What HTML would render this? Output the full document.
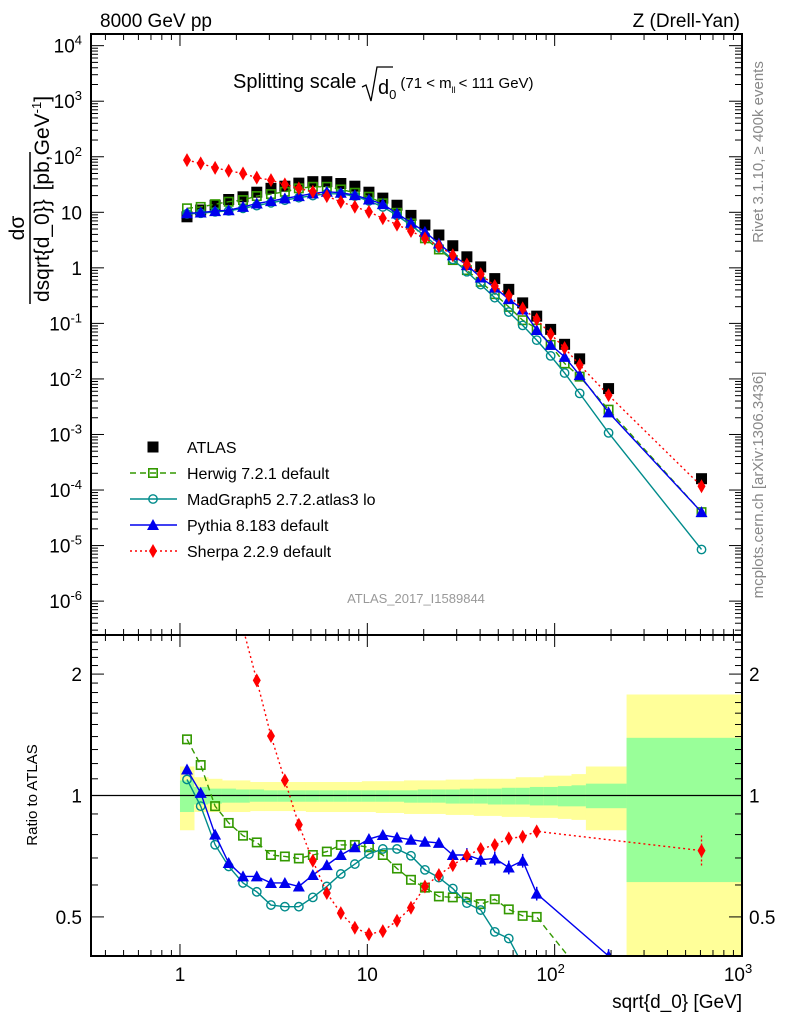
<!DOCTYPE html>
<html><head><meta charset="utf-8"><style>
html,body{margin:0;background:#fff;overflow:hidden;width:786px;height:1024px}
svg{display:block;overflow:hidden;font-family:"Liberation Sans",sans-serif}
</style></head><body>
<svg id="chart" width="786" height="1024" xmlns="http://www.w3.org/2000/svg">
<g id="bands"></g>
<g id="marks"></g>
<g id="axes"></g>
<text x="100" y="27" font-size="19">8000 GeV pp</text>
<text x="740" y="27" font-size="19" text-anchor="end">Z (Drell-Yan)</text>
<g>
<text x="233" y="88" font-size="20">Splitting scale</text>
<path d="M362,87 L366,85 L371,101 L377,67 L393,67" fill="none" stroke="#000" stroke-width="1.3"/>
<text x="378" y="94" font-size="20">d<tspan font-size="13" dy="5">0</tspan><tspan font-size="15" dy="-11" dx="4">(71 &lt; m</tspan><tspan font-size="9" dy="5">ll</tspan><tspan font-size="15" dy="-5" dx="3">&lt; 111 GeV)</tspan></text>
</g>
<g transform="translate(30,228) rotate(-90)">
<text x="0" y="-6" font-size="21" text-anchor="middle">dσ</text>
<line x1="-76" y1="0" x2="76" y2="0" stroke="#000" stroke-width="1.5"/>
<text x="-74" y="19" font-size="21" word-spacing="3">dsqrt{d_0}} [pb,GeV<tspan font-size="13" dy="-8">-1</tspan><tspan dy="8">]</tspan></text>
</g>
<text transform="translate(37,795) rotate(-90)" font-size="15" text-anchor="middle">Ratio to ATLAS</text>
<text x="742" y="1008" font-size="19" text-anchor="end">sqrt{d_0} [GeV]</text>
<text transform="translate(763,152) rotate(-90)" font-size="15" fill="#888" text-anchor="middle">Rivet 3.1.10, ≥ 400k events</text>
<text transform="translate(763,485) rotate(-90)" font-size="15" fill="#888" text-anchor="middle">mcplots.cern.ch [arXiv:1306.3436]</text>
<text x="416" y="603" font-size="13" fill="#999" text-anchor="middle">ATLAS_2017_I1589844</text>
<g id="legend"></g>
</svg>
<script>
const xVals=[1.09,1.29,1.54,1.82,2.17,2.57,3.06,3.63,4.31,5.12,6.08,7.22,8.58,10.2,12.1,14.4,17.1,20.3,24.1,28.6,34.0,40.3,47.9,56.9,67.5,80.2,95.2,113,136,194,608];
const atlas=[8.3,11,13.4,17,19,23,27,29.5,33.5,35.6,35.6,33,29.5,23,18,13.4,8.8,5.9,3.9,2.5,1.58,1.04,0.64,0.41,0.234,0.135,0.078,0.042,0.023,0.0067,1.6e-4];
const herwig=[11.8,12.5,14,15.5,16.6,19.6,21.3,23.4,27,28.8,28.8,25.8,22.5,19.1,14.5,9.8,6.3,3.4,2.14,1.38,0.91,0.56,0.336,0.198,0.114,0.081,0.041,0.019,0.011,0.0028,4e-5];
const madgraph=[9.4,9.6,10.2,10.6,11.8,13.2,14.8,16.5,18.3,20,21.5,21.5,19.5,16,12.5,8.8,5.8,3.8,2.3,1.42,0.85,0.5,0.29,0.16,0.092,0.05,0.026,0.0128,0.0055,0.00107,8.5e-6];
const pythia=[9.6,9.9,10.5,10.9,12.5,14.4,15.9,17.8,19.6,21.9,23.4,22.5,20.4,17,14,9.5,6.5,4.45,2.75,1.69,1.12,0.67,0.44,0.273,0.178,0.076,0.041,0.025,0.0117,0.0025,4e-5];
const sherpa=[87,76,63,56,50,42,38,31.8,27,23.4,19.6,15.4,12.6,10.2,7.8,6.0,4.6,3.4,2.46,1.69,1.15,0.77,0.47,0.32,0.186,0.118,0.064,0.036,0.0178,0.0051,1.17e-4];
const ratioX=[1.09,1.29,1.54,1.82,2.17,2.57,3.06,3.63,4.31,5.12,6.08,7.22,8.58,10.2,12.1,14.4,17.1,20.3,24.1,28.6,34.0,40.3,47.9,56.9,67.5,80.2,194,608];
const rHerwig=[1.378,1.19,0.941,0.855,0.795,0.765,0.712,0.706,0.698,0.712,0.726,0.754,0.754,0.744,0.712,0.659,0.618,0.591,0.562,0.559,0.559,0.538,0.553,0.522,0.503,0.5,0.3,null];
const rMadgraph=[1.096,0.941,0.755,0.667,0.607,0.577,0.535,0.53,0.53,0.559,0.595,0.639,0.676,0.716,0.737,0.737,0.709,0.654,0.626,0.588,0.541,0.52,0.459,0.442,0.38,0.3,0.1,null];
const rPythia=[1.16,1.015,0.80,0.68,0.63,0.63,0.607,0.607,0.595,0.635,0.672,0.712,0.744,0.78,0.798,0.787,0.777,0.768,0.763,0.712,0.712,0.693,0.698,0.663,0.689,0.571,0.40,null];
const rSherpa=[10.5,6.9,4.7,3.3,2.6,1.93,1.405,1.09,0.846,0.689,0.573,0.511,0.47,0.453,0.461,0.489,0.527,0.595,0.635,0.672,0.709,0.737,0.754,0.783,0.79,0.815,null,0.73];
const bandEdges=[1.0,1.188,1.41,1.675,1.99,2.36,2.81,3.33,3.96,4.7,5.58,6.63,7.87,9.35,11.1,13.2,15.7,18.6,22.1,26.2,31.2,37.0,44.0,52.2,62.0,73.7,87.5,104,123,146.8,242,1000];
const yellowHi=[1.18,1.11,1.10,1.09,1.09,1.08,1.08,1.08,1.08,1.08,1.08,1.08,1.08,1.085,1.085,1.085,1.09,1.09,1.09,1.095,1.095,1.10,1.10,1.10,1.11,1.11,1.12,1.12,1.13,1.18,1.78];
const yellowLo=[0.82,0.91,0.91,0.91,0.91,0.915,0.915,0.915,0.915,0.91,0.91,0.91,0.91,0.91,0.905,0.905,0.9,0.9,0.9,0.895,0.895,0.89,0.89,0.885,0.885,0.88,0.88,0.875,0.87,0.82,0.3];
const greenHi=[1.09,1.05,1.04,1.04,1.035,1.035,1.03,1.03,1.03,1.03,1.03,1.03,1.03,1.03,1.03,1.03,1.03,1.035,1.035,1.035,1.04,1.04,1.04,1.045,1.045,1.05,1.05,1.055,1.06,1.07,1.39];
const greenLo=[0.91,0.95,0.955,0.96,0.96,0.965,0.965,0.965,0.965,0.965,0.965,0.965,0.965,0.965,0.965,0.965,0.96,0.96,0.96,0.955,0.955,0.955,0.95,0.95,0.95,0.945,0.945,0.94,0.94,0.93,0.61];
const yTickLabels=["10^4","10^3","10^2","10","1","10^-1","10^-2","10^-3","10^-4","10^-5","10^-6"];

const NS="http://www.w3.org/2000/svg";
const L=91,R=742,MT=34,MB=635,RT=635,RB=956;
const XMIN=Math.log10(0.335),XMAX=3;
const sx=v=>L+(Math.log10(v)-XMIN)/(XMAX-XMIN)*(R-L);
const YMIN=-6.61,YMAX=4.21;
const sy=v=>MB-(Math.log10(v)-YMIN)/(YMAX-YMIN)*(MB-MT);
const RMIN=Math.log10(0.4),RMAX=Math.log10(2.5);
const ry=v=>RB-(Math.log10(v)-RMIN)/(RMAX-RMIN)*(RB-RT);
function el(tag,attrs,parent){const e=document.createElementNS(NS,tag);for(const k in attrs)e.setAttribute(k,attrs[k]);parent.appendChild(e);return e;}
const bands=document.getElementById('bands'),marks=document.getElementById('marks'),axes=document.getElementById('axes'),legend=document.getElementById('legend');
const clipD=el('defs',{},marks);
const cp1=el('clipPath',{id:'cm'},clipD);el('rect',{x:L,y:MT,width:R-L,height:MB-MT},cp1);
const cp2=el('clipPath',{id:'cr'},clipD);el('rect',{x:L,y:RT,width:R-L,height:RB-RT},cp2);
const gm=el('g',{'clip-path':'url(#cm)'},marks);
const gr=el('g',{'clip-path':'url(#cr)'},marks);

for(let i=0;i<bandEdges.length-1;i++){
 const x0=sx(bandEdges[i]),x1=sx(bandEdges[i+1]);
 const y=el('rect',{x:x0,y:ry(yellowHi[i]),width:x1-x0+0.5,height:Math.min(RB,ry(yellowLo[i]))-ry(yellowHi[i]),fill:'#ffff99'},bands);
 
 
 const g=el('rect',{x:x0,y:ry(greenHi[i]),width:x1-x0+0.5,height:ry(greenLo[i])-ry(greenHi[i]),fill:'#99ff99'},bands);
 
 
}
el('line',{x1:L,x2:R,y1:ry(1),y2:ry(1),stroke:'#000','stroke-width':1.3},bands);

function marker(type,x,y,color,parent,size){
 const s=size||5;let m;
 if(type==='sqf')m=el('rect',{x:x-s,y:y-s,width:2*s,height:2*s,fill:'#000'},parent);
 else if(type==='sq')m=el('rect',{x:x-s+0.8,y:y-s+0.8,width:2*s-1.6,height:2*s-1.6,fill:'none',stroke:color,'stroke-width':1.6},parent);
 else if(type==='circ')m=el('circle',{cx:x,cy:y,r:s-0.8,fill:'none',stroke:color,'stroke-width':1.4},parent);
 else if(type==='tri')m=el('path',{d:`M${x},${y-s-1} L${x+s+1},${y+s} L${x-s-1},${y+s} Z`,fill:color},parent);
 else m=el('path',{d:`M${x},${y-s-2} L${x+s-1},${y} L${x},${y+s+2} L${x-s+1},${y} Z`,fill:color},parent);
 return m;
}
const series=[
 {name:'herwig',main:herwig,ratio:rHerwig,color:'#339900',type:'sq',dash:'6,4',label:'Herwig 7.2.1 default'},
 {name:'madgraph',main:madgraph,ratio:rMadgraph,color:'#008b8b',type:'circ',dash:'',label:'MadGraph5 2.7.2.atlas3 lo'},
 {name:'pythia',main:pythia,ratio:rPythia,color:'#0000ee',type:'tri',dash:'',label:'Pythia 8.183 default'},
 {name:'sherpa',main:sherpa,ratio:rSherpa,color:'#ff0000',type:'dia',dash:'2,3',label:'Sherpa 2.2.9 default'}
];
atlas.forEach((v,i)=>{const m=marker('sqf',sx(xVals[i]),sy(v),'#000',gm,5.5);
 
 });
series.forEach(s=>{
 const pts=s.main.map((v,i)=>sx(xVals[i])+','+sy(v)).join(' ');
 const pl=el('polyline',{points:pts,fill:'none',stroke:s.color,'stroke-width':1.4,'stroke-dasharray':s.dash},gm);
 
 
 s.main.forEach((v,i)=>{const m=marker(s.type,sx(xVals[i]),sy(v),s.color,gm);
  
  });
 const rp=[];s.ratio.forEach((v,i)=>{if(v!==null)rp.push(sx(ratioX[i])+','+ry(v));});
 const rl=el('polyline',{points:rp.join(' '),fill:'none',stroke:s.color,'stroke-width':1.4,'stroke-dasharray':s.dash},gr);
 
 
 s.ratio.forEach((v,i)=>{if(v===null)return;const x=sx(ratioX[i]),y=ry(v);
  if(s.name==='pythia'&&i>=20){el('line',{x1:x,x2:x,y1:ry(v*1.04),y2:ry(v/1.04),stroke:s.color,'stroke-width':1.5},gr);}
  if(s.name==='sherpa'&&i===27){el('line',{x1:x,x2:x,y1:ry(v*1.09),y2:ry(v/1.09),stroke:s.color,'stroke-width':1.3,'stroke-dasharray':'2,2'},gr);}
  const m=marker(s.type,x,y,s.color,gr);
  
  });
});
const lrows=[{t:'sqf',c:'#000',l:'ATLAS',d:null}].concat(series.map(s=>({t:s.type,c:s.color,l:s.label,d:s.dash})));
lrows.forEach((r,i)=>{const y=447+i*26;
 const g=el('g',{},legend);
 
 
 if(r.d!==null)el('line',{x1:130,x2:177,y1:y,y2:y,stroke:r.c,'stroke-width':1.4,'stroke-dasharray':r.d},g);
 marker(r.t,153,y,r.c,g,r.t==='sqf'?5.5:5);
 const t=el('text',{x:187,y:y+6,'font-size':16},g);t.textContent=r.l;});
el('rect',{x:L,y:MT,width:R-L,height:MB-MT,fill:'none',stroke:'#000','stroke-width':2},axes);
el('rect',{x:L,y:RT,width:R-L,height:RB-RT,fill:'none',stroke:'#000','stroke-width':2},axes);
for(let d=-1;d<3;d++)for(let k=1;k<10;k++){const v=k*Math.pow(10,d);if(v<0.335)continue;const x=sx(v);const len=k===1?12:6;
 [[MT,1],[MB,-1],[RT,1],[RB,-1]].forEach(([y,s])=>el('line',{x1:x,x2:x,y1:y,y2:y+s*len,stroke:'#000','stroke-width':1},axes));}
[[1,'1'],[10,'10'],[100,'10','2'],[1000,'10','3']].forEach(a=>{const t=el('text',{x:sx(a[0]),y:981,'font-size':19,'text-anchor':'middle'},axes);
 t.textContent=a[1];if(a[2]){t.setAttribute('x',sx(a[0])-4);const ts=el('tspan',{'font-size':13,dy:-8},t);ts.textContent=a[2];}});
for(let e=-7;e<=4;e++)for(let k=1;k<10;k++){const v=k*Math.pow(10,e);const y=sy(v);if(y<MT||y>MB)continue;const len=k===1?13:7;
 el('line',{x1:L,x2:L+len,y1:y,y2:y,stroke:'#000'},axes);el('line',{x1:R,x2:R-len,y1:y,y2:y,stroke:'#000'},axes);}
yTickLabels.forEach((lab,i)=>{const e=4-i;const y=sy(Math.pow(10,e));
 const t=el('text',{x:82,y:y+7,'font-size':19,'text-anchor':'end'},axes);
 
 
 if(lab.indexOf('^')>=0){const p=lab.split('^');t.textContent=p[0];const ts=el('tspan',{'font-size':13,dy:-8},t);ts.textContent=p[1];}
 else t.textContent=lab;});
[0.4,0.5,0.6,0.7,0.8,0.9,1,1.1,1.2,1.3,1.4,1.5,1.6,1.7,1.8,1.9,2,2.1,2.2,2.3,2.4,2.5].forEach(v=>{const y=ry(v);const len=(v===0.5||v===1||v===2)?13:7;
 el('line',{x1:L,x2:L+len,y1:y,y2:y,stroke:'#000'},axes);el('line',{x1:R,x2:R-len,y1:y,y2:y,stroke:'#000'},axes);});
[[2,'2'],[1,'1'],[0.5,'0.5']].forEach(a=>{const y=ry(a[0])+7;
 const t1=el('text',{x:82,y:y,'font-size':19,'text-anchor':'end'},axes);t1.textContent=a[1];
 const t2=el('text',{x:749,y:y,'font-size':19},axes);t2.textContent=a[1];});
</script>
</body></html>
